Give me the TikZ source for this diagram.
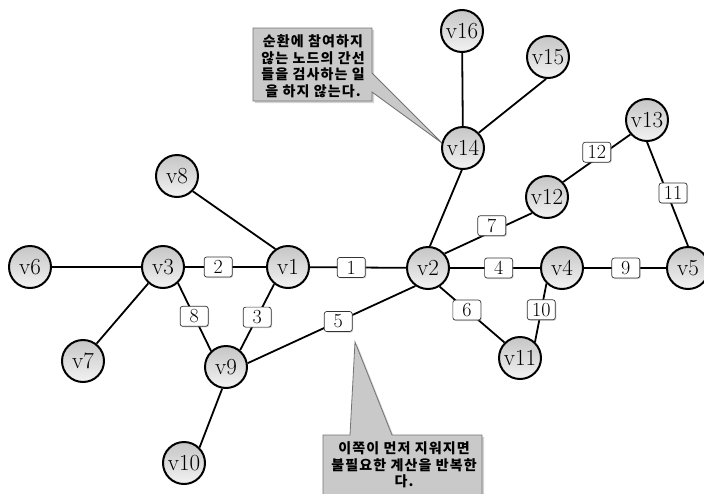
\documentclass[tikz,border=0pt]{standalone}
\usepackage{fontspec}
\newfontfamily\krfont{Noto Sans CJK KR}[LetterSpace=8]
\usetikzlibrary{shadows}
\begin{document}
\begin{tikzpicture}[x=1pt,y=-1pt,
  vtx/.style={circle,draw=black,line width=2pt,minimum size=42pt,inner sep=0pt,
    top color=gray!45,bottom color=gray!10,font=\fontsize{23}{23}\selectfont},
  wt/.style={draw=black!80,line width=0.7pt,rounded corners=2.5pt,fill=white,
    minimum width=28pt,minimum height=20pt,inner sep=1pt,
    font=\fontsize{20}{20}\selectfont,
    drop shadow={shadow xshift=1pt,shadow yshift=-1pt,opacity=0.35}},
  link/.style={line width=1.8pt},
  callout/.style={draw=black!55,line width=0.8pt,fill=gray!42,
    drop shadow={shadow xshift=2pt,shadow yshift=-2pt,opacity=0.35}},
  notetext/.style={font=\krfont\bfseries\fontsize{14}{16.5}\selectfont,align=center}
]
\useasboundingbox (0,0) rectangle (704,493);
\clip (0,0) rectangle (704,493);

% speech-bubble callouts
\path[callout] (253,28) -- (372,28) -- (372,73) -- (442,143) -- (372,92)
  -- (372,101) -- (253,101) -- cycle;
\path[callout] (323,435) -- (350,435) -- (355,342) -- (392,435) -- (482,435)
  -- (482,505) -- (323,505) -- cycle;
\node[notetext] (n1) at (313,66) {순환에 참여하지\\않는 노드의 간선\\들을 검사하는 일\\을 하지 않는다.};
\node[notetext] (n2) at (404,465) {이쪽이 먼저 지워지면\\불필요한 계산을 반복한\\다.};

% vertices
\node[vtx] (v1)  at (288,267) {v1};
\node[vtx] (v2)  at (428,268) {v2};
\node[vtx] (v3)  at (163,267) {v3};
\node[vtx] (v4)  at (562,268) {v4};
\node[vtx] (v5)  at (688,268) {v5};
\node[vtx] (v6)  at (30,267)  {v6};
\node[vtx] (v7)  at (83,361)  {v7};
\node[vtx] (v8)  at (177,176) {v8};
\node[vtx] (v9)  at (226,367) {v9};
\node[vtx] (v10) at (184,463) {v10};
\node[vtx] (v11) at (520,358) {v11};
\node[vtx] (v12) at (547,197) {v12};
\node[vtx] (v13) at (647,120) {v13};
\node[vtx] (v14) at (463,148) {v14};
\node[vtx] (v15) at (548,57)  {v15};
\node[vtx] (v16) at (462,31)  {v16};

% edges without weights
\draw[link] (v6) -- (v3);
\draw[link] (v3.228) -- (v7.52);
\draw[link] (v8.-44) -- (v1.125);
\draw[link] (v9.260) -- (v10.45);
\draw[link] (v14.267) -- (v2.85);
\draw[link] (v14) -- (v16);
\draw[link] (v14.44) -- (v15.265);

% weighted edges
\draw[link] (v3) -- node[wt,pos=0.41] (w2) {2} (v1);
\draw[link] (v1) -- node[wt,pos=0.43] (w1) {1} (v2);
\draw[link] (v2) -- node[wt,pos=0.54] (w4) {4} (v4);
\draw[link] (v4) -- node[wt,pos=0.51] (w9) {9} (v5);
\draw[link] (v3.-47) -- node[wt,pos=0.49] (w8) {8} (v9.133);
\draw[link] (v1.231) -- node[wt,pos=0.5] (w3) {3} (v9.50);
\draw[link] (v9.10) -- node[wt,pos=0.54] (w5) {5} (v2.235);
\draw[link] (v2.-58) -- node[wt,pos=0.42] (w6) {6} (v11.135);
\draw[link] (v4.225) -- node[wt,pos=0.45] (w10) {10} (v11.47);
\draw[link] (v2.41) -- node[wt,pos=0.54,yshift=6pt] (w7) {7} (v12.227);
\draw[link] (v12.43) -- node[wt,pos=0.5,yshift=6pt] (w12) {12} (v13.221);
\draw[link] (v13.south) -- node[wt,pos=0.49,xshift=6pt] (w11) {11} (v5.north);
\end{tikzpicture}
\end{document}
